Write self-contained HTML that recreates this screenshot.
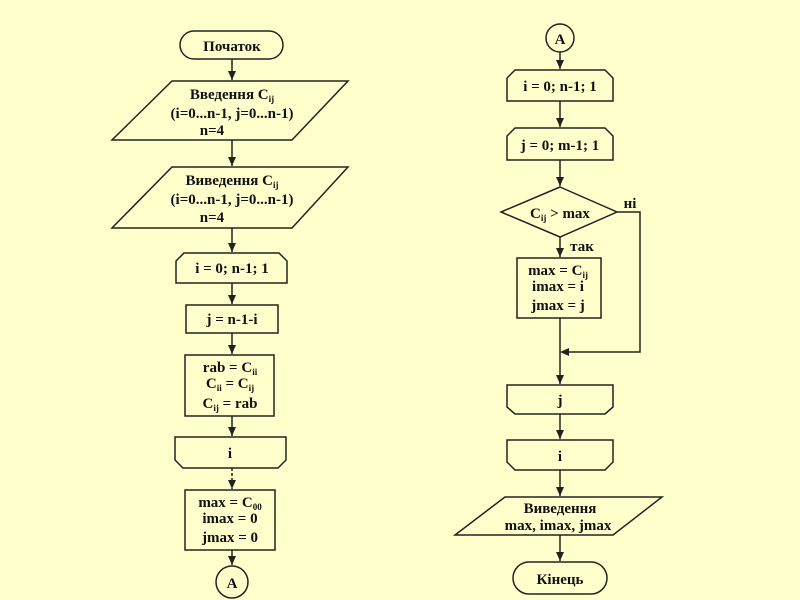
<!DOCTYPE html>
<html><head><meta charset="utf-8"><style>
html,body{margin:0;padding:0;background:#ffffcc;}
svg{display:block}
text{font-family:"Liberation Serif",serif;font-weight:bold;font-size:15px;fill:#111;text-anchor:middle}
.s{fill:none;stroke:#222;stroke-width:1.5}
.sub{font-size:9px}
</style></head><body>
<svg width="800" height="600" viewBox="0 0 800 600">
<defs><marker id="a" markerWidth="8" markerHeight="10" refX="4" refY="8" orient="auto" markerUnits="userSpaceOnUse"><path d="M0,0 L4,8 L8,0 Z" fill="#222" transform="rotate(-90 4 4) translate(0,0)"/></marker>
<marker id="d" markerWidth="8" markerHeight="9" refX="4" refY="9" orient="0" markerUnits="userSpaceOnUse"><path d="M0,0 L8,0 L4,9 Z" fill="#222"/></marker>
<marker id="l" markerWidth="9" markerHeight="8" refX="0" refY="4" orient="0" markerUnits="userSpaceOnUse"><path d="M9,0 L9,8 L0,4 Z" fill="#222"/></marker></defs>

<!-- LEFT -->
<rect class="s" x="180" y="31" width="103" height="28" rx="14"/>
<text x="232" y="51">Початок</text>
<line class="s" x1="232" y1="59" x2="232" y2="80" marker-end="url(#d)"/>
<polygon class="s" points="172,81 348,81 292,140 112,140"/>
<text x="232" y="99">Введення C<tspan class="sub" dy="3">ij</tspan></text>
<text x="232" y="118">(i=0...n-1, j=0...n-1)</text>
<text x="232" y="135" dx="-20">n=4</text>
<line class="s" x1="232" y1="140" x2="232" y2="166" marker-end="url(#d)"/>
<polygon class="s" points="172,167 348,167 292,228 112,228"/>
<text x="232" y="185">Виведення C<tspan class="sub" dy="3">ij</tspan></text>
<text x="232" y="204">(i=0...n-1, j=0...n-1)</text>
<text x="232" y="222" dx="-20">n=4</text>
<line class="s" x1="232" y1="228" x2="232" y2="252" marker-end="url(#d)"/>
<polygon class="s" points="184,253 279,253 287,261 287,283 176,283 176,261"/>
<text x="232" y="273">i = 0; n-1; 1</text>
<line class="s" x1="232" y1="283" x2="232" y2="304" marker-end="url(#d)"/>
<rect class="s" x="186" y="305" width="92" height="28"/>
<text x="232" y="324">j = n-1-i</text>
<line class="s" x1="232" y1="333" x2="232" y2="354" marker-end="url(#d)"/>
<rect class="s" x="185" y="355" width="89" height="61"/>
<text x="230" y="372">rab = C<tspan class="sub" dy="3">ii</tspan></text>
<text x="230" y="388">C<tspan class="sub" dy="3">ii</tspan><tspan dy="-3"> = C</tspan><tspan class="sub" dy="3">ij</tspan></text>
<text x="230" y="408">C<tspan class="sub" dy="3">ij</tspan><tspan dy="-3"> = rab</tspan></text>
<line class="s" x1="232" y1="416" x2="232" y2="436" marker-end="url(#d)"/>
<polygon class="s" points="175,437 286,437 286,460 278,468 183,468 175,460"/>
<text x="230" y="458">i</text>
<line class="s" x1="232" y1="468" x2="232" y2="489" stroke-dasharray="3,2" marker-end="url(#d)"/>
<rect class="s" x="185" y="490" width="90" height="60"/>
<text x="230" y="507">max = C<tspan class="sub" dy="3">00</tspan></text>
<text x="230" y="523">imax = 0</text>
<text x="230" y="542">jmax = 0</text>
<line class="s" x1="232" y1="550" x2="232" y2="565" marker-end="url(#d)"/>
<circle class="s" cx="232" cy="582" r="16"/>
<text x="232" y="588">A</text>

<!-- RIGHT -->
<circle class="s" cx="560" cy="38" r="14"/>
<text x="560" y="44">A</text>
<line class="s" x1="560" y1="52" x2="560" y2="69" marker-end="url(#d)"/>
<polygon class="s" points="515,70 605,70 613,78 613,101 507,101 507,78"/>
<text x="560" y="91">i = 0; n-1; 1</text>
<line class="s" x1="560" y1="101" x2="560" y2="127" marker-end="url(#d)"/>
<polygon class="s" points="515,128 605,128 613,136 613,160 507,160 507,136"/>
<text x="560" y="150">j = 0; m-1; 1</text>
<line class="s" x1="560" y1="160" x2="560" y2="186" marker-end="url(#d)"/>
<polygon class="s" points="560,187 617,212 560,237 501,212"/>
<text x="560" y="218">C<tspan class="sub" dy="3">ij</tspan><tspan dy="-3"> &gt; max</tspan></text>
<text x="630" y="208">ні</text>
<polyline class="s" points="617,212 640,212 640,352 566,352"/>
<path d="M560,352 L569,348 L569,356 Z" fill="#222"/>
<line class="s" x1="560" y1="237" x2="560" y2="257" marker-end="url(#d)"/>
<text x="582" y="251">так</text>
<rect class="s" x="517" y="258" width="84" height="60"/>
<text x="558" y="275">max = C<tspan class="sub" dy="3">ij</tspan></text>
<text x="558" y="291">imax = i</text>
<text x="558" y="310">jmax = j</text>
<line class="s" x1="560" y1="318" x2="560" y2="384" marker-end="url(#d)"/>
<polygon class="s" points="507,385 613,385 613,407 605,414 515,414 507,407"/>
<text x="560" y="405">j</text>
<line class="s" x1="560" y1="414" x2="560" y2="439" marker-end="url(#d)"/>
<polygon class="s" points="507,440 613,440 613,462 605,470 515,470 507,462"/>
<text x="560" y="461">i</text>
<line class="s" x1="560" y1="470" x2="560" y2="496" marker-end="url(#d)"/>
<polygon class="s" points="505,497 662,497 613,535 455,535"/>
<text x="560" y="513">Виведення</text>
<text x="558" y="530">max, imax, jmax</text>
<line class="s" x1="560" y1="535" x2="560" y2="561" marker-end="url(#d)"/>
<rect class="s" x="513" y="562" width="94" height="32" rx="16"/>
<text x="560" y="584">Кінець</text>
</svg>
</body></html>
